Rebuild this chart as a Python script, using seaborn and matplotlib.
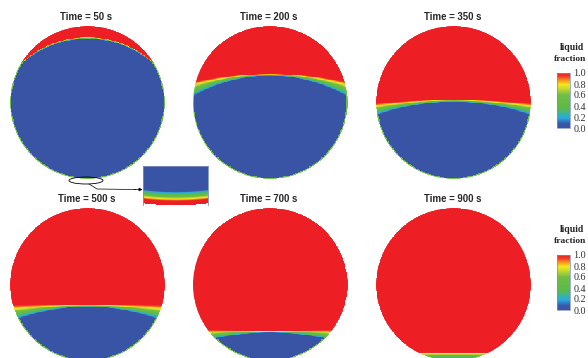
import numpy as np
import matplotlib
matplotlib.use("Agg")
import matplotlib.pyplot as plt
import seaborn as sns
from matplotlib.colors import LinearSegmentedColormap
from matplotlib.patches import Ellipse

sns.set_theme(style="white")
plt.rcParams["font.family"] = ["Liberation Sans", "DejaVu Sans"]

# ---- data -------------------------------------------------------------
times = [50, 200, 350, 500, 700, 900]
# melt-front heights in units of the tube radius (z = +1 top, -1 bottom)
liquid_center = [0.856, 0.373, 0.033, -0.268, -0.608, -0.885]   # top of mushy zone, axis
liquid_wall = [0.516, 0.280, -0.007, -0.268, -0.595, -0.885]     # top of mushy zone, wall
solid_center = [0.830, 0.346, 0.007, -0.294, -0.634, -0.975]     # top of solid, axis
solid_wall = [0.477, 0.060, -0.176, -0.464, -0.712, -0.975]      # top of solid, wall
wall_fraction = 0.58            # liquid fraction in the wall cells next to the solid
film_thickness = 0.36           # contact-melting film under the solid (inset units)
film_liquid_layer = 0.10
film_bow = 0.05
cbar_ticks = [0.0, 0.2, 0.4, 0.6, 0.8, 1.0]
cbar_labels = ["0.0", "0.2", "0.4", "0.6", "0.8", "1.0"]

# ---- colour map ---------------------------------------------------------
cmap = LinearSegmentedColormap.from_list(
    "lf",
    [(0.00, "#3a54a5"), (0.08, "#3a57a8"), (0.18, "#28a9e1"), (0.28, "#40b68f"),
     (0.36, "#5cb947"), (0.60, "#6fbe44"), (0.71, "#c2d82f"), (0.79, "#f3e81c"),
     (0.87, "#f7941d"), (0.94, "#ef3e25"), (1.00, "#ed1f24")])

W, H = 588, 358
fig = plt.figure(figsize=(W / 100, H / 100), dpi=100)


def fig_rect(x0, y0, w, h):
    return [x0 / W, 1 - (y0 + h) / H, w / W, h / H]


def arc(x, zc, zw):
    half = np.sqrt(max(1 - zw ** 2, 1e-6))
    s = zc - zw
    if abs(s) < 1e-4:
        return np.full_like(x, zc)
    r = (half ** 2 + s ** 2) / (2 * s)
    return zc - r + np.sign(r) * np.sqrt(np.clip(r ** 2 - x ** 2, 0, None))


N = 220
coords = -1 + (np.arange(N) + 0.5) * 2 / N
X, Z = np.meshgrid(coords, coords[::-1])
R = np.hypot(X, Z)
outside = R > 1.0

centers_x = [87.5, 270, 453.5, 87.5, 270, 453.5]
tops = [26, 26, 26, 208, 208, 208]
diam_w, diam_h = 155, 153
cbar_tops = [73, 255]

for k, t in enumerate(times):
    ax = fig.add_axes(fig_rect(centers_x[k] - diam_w / 2, tops[k], diam_w, diam_h))
    top = arc(X, liquid_center[k], liquid_wall[k])
    bot = arc(X, solid_center[k], solid_wall[k])
    frac = np.clip((Z - bot) / np.maximum(top - bot, 0.01), 0, 1)
    near_wall = R > 1 - 0.016
    frac = np.where(near_wall, np.maximum(frac, wall_fraction), frac)

    right = (k % 3 == 2)
    cax = None
    if right:
        cax = fig.add_axes(fig_rect(557, cbar_tops[k // 3], 13, 55))
    sns.heatmap(frac, mask=outside, cmap=cmap, vmin=0, vmax=1, ax=ax,
                cbar=right, cbar_ax=cax, xticklabels=False, yticklabels=False)
    mesh = ax.collections[0]
    mesh.set_clip_path(Ellipse((N / 2, N / 2), N, N, transform=ax.transData))
    ax.axis("off")

    fig.text((centers_x[k] - 1) / W, 1 - (tops[k] - 9) / H, f"Time = {t} s",
             ha="center", va="center", fontsize=6.9, fontweight="bold")

    if right:
        cb = mesh.colorbar
        cb.set_ticks(cbar_ticks)
        cb.set_ticklabels(cbar_labels)
        cax.tick_params(length=0, pad=2.5, labelsize=7.3)
        for lab in cax.get_yticklabels():
            lab.set_fontfamily("Liberation Serif")
            lab.set_color("#333333")
        cb.outline.set_linewidth(0.5)
        cb.outline.set_edgecolor("#7a8fc0")
        y0 = cbar_tops[k // 3]
        fig.text(572 / W, 1 - (y0 - 25) / H, "liquid", ha="center", va="center",
                 fontsize=7, fontweight="bold", family="Liberation Serif")
        fig.text(570.5 / W, 1 - (y0 - 14) / H, "fraction", ha="center", va="center",
                 fontsize=6.8, fontweight="bold", family="Liberation Serif")

# ---- magnified view of the melt film under the solid -------------------
ni, nj = 80, 130
u = (np.arange(nj) + 0.5) / nj
v = 1 - (np.arange(ni) + 0.5) / ni
U, V = np.meshgrid(u, v)
v_wall = film_bow * (2 * U - 1) ** 2
film = np.clip((film_thickness - (V - v_wall)) / (film_thickness - film_liquid_layer), 0, 1)
iax = fig.add_axes(fig_rect(143, 166, 65, 39))
sns.heatmap(film, mask=V < v_wall, cmap=cmap, vmin=0, vmax=1, ax=iax, cbar=False,
            xticklabels=False, yticklabels=False)
iax.set_xticks([])
iax.set_yticks([])
for side in ["top", "left", "right"]:
    iax.spines[side].set_visible(True)
    iax.spines[side].set_linewidth(0.6)
    iax.spines[side].set_color("#7f8fb8")
iax.spines["bottom"].set_visible(False)

ov = fig.add_axes([0, 0, 1, 1])
ov.set_xlim(0, W)
ov.set_ylim(H, 0)
ov.axis("off")
ov.patch.set_alpha(0)
ov.add_patch(Ellipse((86, 180.5), 34, 7, fill=False, ec="black", lw=0.6))
ov.plot([89, 97, 136], [184, 189, 189.5], color="black", lw=0.5)
ov.annotate("", xy=(142.5, 189.5), xytext=(134, 189.5),
            arrowprops=dict(arrowstyle="-|>", lw=0.5, color="black",
                            mutation_scale=5, shrinkA=0, shrinkB=0))

fig.savefig("out.png", dpi=100)
